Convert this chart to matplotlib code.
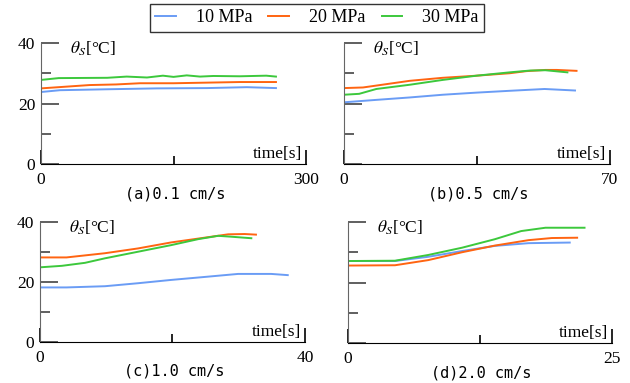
import matplotlib
matplotlib.use("Agg")
import matplotlib.pyplot as plt

# series labels / colours
labels = ["10 MPa", "20 MPa", "30 MPa"]
colors = ["#6a9cf5", "#ff6411", "#3cc83c"]

# (a) 0.1 cm/s
a_t10 = [0, 21.5, 74, 131, 188, 233, 266]
a_v10 = [23.8, 24.4, 24.7, 25.0, 25.1, 25.4, 25.1]
a_t20 = [0, 25, 55, 85, 112, 150, 188, 225, 266]
a_v20 = [25.0, 25.5, 26.1, 26.3, 26.7, 26.7, 26.9, 27.1, 27.1]
a_t30 = [0, 20, 75, 97, 120, 138, 150, 165, 180, 195, 225, 255, 266]
a_v30 = [27.8, 28.4, 28.5, 28.9, 28.6, 29.2, 28.8, 29.3, 28.9, 29.1, 29.0, 29.2, 28.9]

# (b) 0.5 cm/s
b_t10 = [0, 8.5, 17.3, 26, 34.9, 43.6, 52.8, 60.8]
b_v10 = [20.4, 21.2, 22.0, 22.9, 23.6, 24.2, 24.8, 24.3]
b_t20 = [0, 5, 17.3, 26, 34.9, 43.6, 48, 53, 56, 61.2]
b_v20 = [25.1, 25.3, 27.5, 28.5, 29.2, 30.0, 30.7, 31.1, 31.1, 30.8]
b_t30 = [0, 4, 8.5, 17.3, 26, 34.9, 43.6, 49, 53, 58.8]
b_v30 = [22.9, 23.2, 24.8, 26.2, 27.8, 29.2, 30.3, 30.9, 31.0, 30.3]

# (c) 1.0 cm/s
c_t10 = [0, 4, 9.8, 14.8, 19.8, 24.9, 29.9, 34.9, 37.4]
c_v10 = [18.2, 18.2, 18.6, 19.6, 20.7, 21.7, 22.7, 22.7, 22.3]
c_t20 = [0, 4, 9.8, 14.8, 19.8, 24.9, 28.4, 30.9, 32.6]
c_v20 = [28.2, 28.2, 29.6, 31.2, 33.2, 34.8, 35.9, 36.0, 35.8]
c_t30 = [0, 3.3, 6.8, 9.8, 14.8, 19.8, 23.9, 26.9, 28.9, 31.9]
c_v30 = [24.9, 25.4, 26.4, 27.9, 30.1, 32.3, 34.3, 35.4, 35.1, 34.6]

# (d) 2.0 cm/s
d_t10 = [0, 4.45, 7.6, 10.8, 13.9, 17.1, 21]
d_v10 = [27.1, 27.1, 28.5, 30.4, 32.1, 33.0, 33.2]
d_t20 = [0, 4.45, 7.6, 10.8, 13.9, 17.1, 19.3, 21.7]
d_v20 = [25.6, 25.7, 27.4, 30.0, 32.2, 34.0, 34.7, 34.8]
d_t30 = [0, 4.45, 7.6, 10.8, 13.9, 16.4, 18.7, 22.4]
d_v30 = [27.1, 27.2, 29.1, 31.5, 34.3, 37.0, 38.1, 38.1]

plt.rcParams["font.family"] = ["Liberation Serif", "DejaVu Serif"]
plt.rcParams["mathtext.fontset"] = "stix"

fig = plt.figure(figsize=(6.3, 3.83), dpi=100)

panels = [
    ([0.0651, 0.5718, 0.4206, 0.3159], 300, "(a)0.1 cm/s", True,
     [(a_t10, a_v10), (a_t20, a_v20), (a_t30, a_v30)]),
    ([0.546, 0.5718, 0.4222, 0.3159], 70, "(b)0.5 cm/s", False,
     [(b_t10, b_v10), (b_t20, b_v20), (b_t30, b_v30)]),
    ([0.0635, 0.107, 0.4206, 0.3133], 40, "(c)1.0 cm/s", True,
     [(c_t10, c_v10), (c_t20, c_v20), (c_t30, c_v30)]),
    ([0.5524, 0.1044, 0.419, 0.316], 25, "(d)2.0 cm/s", False,
     [(d_t10, d_v10), (d_t20, d_v20), (d_t30, d_v30)]),
]

handles = []
for rect, xmax, title, show_y, series in panels:
    ax = fig.add_axes(rect)
    handles = []
    for (t, v), c, lab in zip(series, colors, labels):
        h, = ax.plot(t, v, color=c, lw=1.4, label=lab)
        handles.append(h)
    ax.set_xlim(0, xmax)
    ax.set_ylim(0, 40)
    for s in ["top", "right"]:
        ax.spines[s].set_visible(False)
    ax.spines["left"].set_color("#666666")
    ax.spines["bottom"].set_color("black")

    ax.set_yticks([0, 20, 40])
    ax.set_yticks([10, 30], minor=True)
    ax.tick_params(axis="y", which="major", direction="in", length=13, width=1.2,
                   color="#444444", labelsize=12.5, pad=4)
    ax.tick_params(axis="y", which="minor", direction="in", length=7, width=1.2,
                   color="#444444")
    if show_y:
        ax.set_yticklabels(["0", "20", "40"])
    else:
        ax.set_yticklabels([])

    ax.set_xticks([0, xmax])
    ax.set_xticklabels(["0", str(xmax)])
    ax.set_xticks([xmax / 2], minor=True)
    ax.tick_params(axis="x", which="major", direction="in", length=10, width=1.2,
                   color="black", labelsize=12.5, pad=6)
    ax.tick_params(axis="x", which="minor", direction="in", length=6, width=1.2,
                   color="black")

    ax.text(0.985, 0.02, "time[s]", transform=ax.transAxes, ha="right",
            va="bottom", fontsize=12.5)
    ax.text(0.11, 0.955, r"$\theta_S$[°C]", transform=ax.transAxes, ha="left",
            va="center", fontsize=12.5)
    ax.text(0.505, -0.245, title, transform=ax.transAxes, ha="center",
            va="center", fontsize=11, family="DejaVu Sans Mono")

leg = fig.legend(handles, labels, loc="upper center", ncol=3,
                 bbox_to_anchor=(0.503, 0.99), borderaxespad=0, fontsize=13,
                 frameon=True, fancybox=False, edgecolor="black",
                 handlelength=1.15, columnspacing=0.9, handletextpad=1.1,
                 borderpad=0.3)
leg.get_frame().set_linewidth(1.0)

plt.savefig("out.png", dpi=100)
plt.close()
